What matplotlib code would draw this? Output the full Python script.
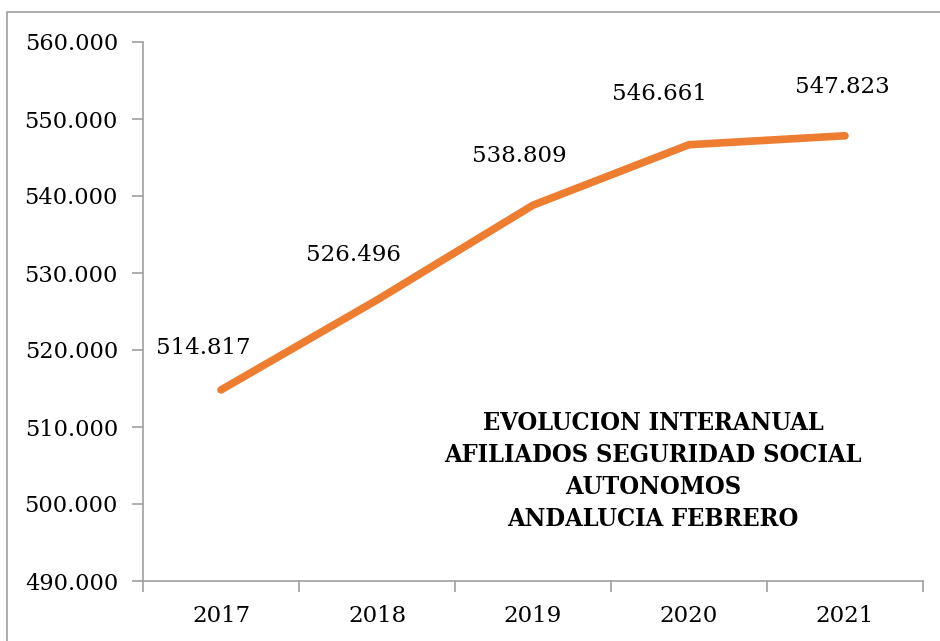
import matplotlib.pyplot as plt
from matplotlib.patches import Rectangle

years = ['2017', '2018', '2019', '2020', '2021']
afiliados = [514817, 526496, 538809, 546661, 547823]
etiquetas = ['514.817', '526.496', '538.809', '546.661', '547.823']
yticks = [490000, 500000, 510000, 520000, 530000, 540000, 550000, 560000]

# label offsets (pixels) as placed in the original
offs = [(-18, 42), (-23, 45), (-14, 49), (-30, 51), (-3, 49)]

fig = plt.figure(figsize=(9.4, 6.41), dpi=100)
ax = fig.add_axes([143/940, 60/641, 780/940, 539/641])

x = range(len(years))
ax.plot(x, afiliados, color='#ED7D31', lw=5.5, solid_capstyle='round', solid_joinstyle='round')

for i in x:
    ax.annotate(etiquetas[i], (i, afiliados[i]), xytext=(offs[i][0]*0.72, offs[i][1]*0.72),
                textcoords='offset points', ha='center', va='center',
                fontsize=16.5, family='DejaVu Serif')

ax.set_xlim(-0.5, 4.5)
ax.set_ylim(490000, 560000)
ax.set_yticks(yticks)
ax.set_yticklabels([f'{v//1000}.000' for v in yticks], family='DejaVu Serif', fontsize=16.2)
ax.set_xticks(x)
ax.set_xticklabels(years, family='DejaVu Serif', fontsize=16.5)
ax.set_xticks([i - 0.5 for i in range(6)], minor=True)
ax.tick_params(axis='x', which='major', length=0, pad=17)
ax.tick_params(axis='x', which='minor', length=8, color='#A0A0A0', width=1.2)
ax.tick_params(axis='y', length=8, color='#A0A0A0', width=1.2, pad=10)

for s in ['top', 'right']:
    ax.spines[s].set_visible(False)
for s in ['left', 'bottom']:
    ax.spines[s].set_color('#A0A0A0')
    ax.spines[s].set_linewidth(1.2)

fig.text(653/940, 1 - 471/641,
         'EVOLUCION INTERANUAL\nAFILIADOS SEGURIDAD SOCIAL\nAUTONOMOS\nANDALUCIA FEBRERO',
         ha='center', va='center', fontsize=18.2, fontweight='bold', family='DejaVu Serif',
         fontstretch='condensed', linespacing=1.42)

fig.patches.append(Rectangle((7/940, -0.1), 1.1, 1 - 12/641 + 0.1, transform=fig.transFigure,
                             fill=False, edgecolor='#A0A0A0', lw=1.2))

fig.savefig('out.png', dpi=100)
